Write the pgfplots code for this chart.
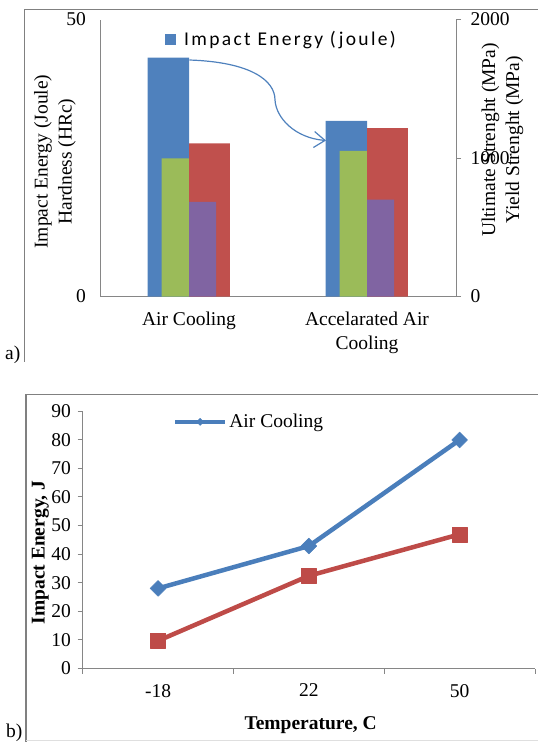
\documentclass[border=0pt]{standalone}
\usepackage{fontspec}
\setmainfont{Liberation Serif}
\newfontfamily\calfont[LetterSpace=12]{Carlito}
\usepackage{pgfplots}
\pgfplotsset{compat=1.18}
\usetikzlibrary{arrows.meta}
\definecolor{xblue}{HTML}{4F81BD}
\definecolor{xred}{HTML}{C0504D}
\definecolor{xgreen}{HTML}{9BBB59}
\definecolor{xpurple}{HTML}{8064A2}
\definecolor{lblue}{HTML}{4A7EBB}
\definecolor{lred}{HTML}{BE4B48}
\definecolor{axgray}{HTML}{868686}
\definecolor{frgray}{HTML}{808080}
\newcommand{\fs}{\fontsize{19.5}{24}\selectfont}

\begin{document}
\begin{tikzpicture}
\path[use as bounding box] (0,0) rectangle (538pt,-742pt);
% frames
\draw[frgray, line width=1.3pt] (538pt,-9.3pt) -- (24.3pt,-9.3pt) -- (24.3pt,-362pt);
\draw[frgray, line width=1.3pt] (538pt,-394.3pt) -- (26pt,-394.3pt) -- (26pt,-742pt);
\draw[gray!25, line width=1pt] (26pt,-740.7pt) -- (538pt,-740.7pt);
\node[font=\fs, anchor=base west, inner sep=0pt] at (5pt,-359pt) {a)};
\node[font=\fs, anchor=base west, inner sep=0pt] at (6pt,-737.5pt) {b)};

% ---------- Panel a, primary axis ----------
\begin{axis}[
  at={(100pt,-296.5pt)}, anchor=south west,
  scale only axis, width=356pt, height=277pt,
  xmin=-0.5, xmax=1.5, ymin=0, ymax=50,
  axis x line*=bottom, axis y line*=left,
  axis line style={draw=axgray, line width=1pt},
  xtick={0,1}, xticklabels={Air Cooling, {Accelarated Air\\Cooling}},
  ytick={0,50},
  major tick length=0pt,
  tick label style={font=\fs},
  xticklabel style={align=center, yshift=-12pt},
  yticklabel style={xshift=-10.5pt},
  /pgf/number format/assume math mode=true,
  ylabel={Impact Energy (Joule)\\Hardness (HRc)},
  every axis y label/.style={at={(axis description cs:-0.1267,0.487)}, anchor=center, rotate=90, align=center, font=\fs},
  legend style={at={(axis description cs:0.1826,0.928)}, anchor=west, draw=none, fill=none, inner sep=0pt,
    column sep=6pt, font=\calfont\fontsize{19.5}{22}\selectfont},
  legend image code/.code={\fill[#1] (0pt,-5.5pt) rectangle (11pt,5.5pt);},
]
\addplot[ybar, bar width=0.232, bar shift=-0.116, fill=xblue, draw=none] coordinates {(0,43.1) (1,31.7)};
\addlegendentry{Impact Energy (joule)}
\addplot[ybar, bar width=0.229, bar shift=0.1145, fill=xred, draw=none, forget plot] coordinates {(0,27.65) (1,30.4)};
\end{axis}

% ---------- Panel a, secondary axis ----------
\begin{axis}[
  at={(100pt,-296.5pt)}, anchor=south west,
  scale only axis, width=356pt, height=277pt,
  xmin=-0.5, xmax=1.5, ymin=0, ymax=2000,
  axis x line=none, axis y line*=right,
  axis line style={draw=axgray, line width=1pt},
  tick style={draw=axgray, line width=1pt},
  xtick=\empty,
  ytick={0,1000,2000},
  tick align=outside, major tick length=5pt,
  tick label style={font=\fs},
  yticklabel style={xshift=6pt},
  /pgf/number format/assume math mode=true,
  /pgf/number format/1000 sep={},
  ylabel={Ultimate Strenght (MPa)\\Yield Strenght (MPa)},
  every axis y label/.style={at={(axis description cs:1.1306,0.565)}, anchor=center, rotate=90, align=center, font=\fs},
]
\addplot[ybar, bar width=0.153, bar shift=-0.0767, fill=xgreen, draw=none] coordinates {(0,998) (1,1051)};
\addplot[ybar, bar width=0.152, bar shift=0.076, fill=xpurple, draw=none] coordinates {(0,684) (1,699)};
\end{axis}

% arrow annotation
\draw[xblue, line width=1.2pt, -{Straight Barb[length=11pt,width=16pt]}]
  (189.3pt,-60pt) .. controls (250pt,-62pt) and (275pt,-80pt) .. (275pt,-100pt)
  .. controls (276pt,-118pt) and (295pt,-138pt) .. (326pt,-140.5pt);

% ---------- Panel b ----------
\begin{axis}[
  at={(82.7pt,-668.5pt)}, anchor=south west,
  scale only axis, width=452.3pt, height=257.5pt,
  xmin=0, xmax=3, ymin=0, ymax=90,
  axis x line*=bottom, axis y line*=left,
  axis line style={draw=axgray, line width=1pt},
  tick style={draw=axgray, line width=1pt},
  tick align=outside, major tick length=5pt,
  ytick={0,10,...,90},
  xtick={0,1,2,3}, xticklabels={},
  extra x ticks={0.5,1.5,2.5}, extra x tick labels={-18,22,50},
  extra x tick style={major tick length=0pt, xticklabel style={yshift=-12pt}},
  tick label style={font=\fs},
  yticklabel style={xshift=-3.2pt},
  /pgf/number format/assume math mode=true,
  xlabel={Temperature, C},
  ylabel={Impact Energy, J},
  every axis y label/.style={at={(axis description cs:-0.0933,0.4505)}, anchor=center, rotate=90, font=\fs\bfseries},
  every axis x label/.style={at={(axis description cs:0.504,-0.235)}, anchor=base, font=\fs\bfseries},
  legend style={at={(axis description cs:0.199,0.958)}, anchor=west, draw=none, fill=none, inner sep=0pt, font=\fs},
  legend image code/.code={
    \draw[#1, mark=none] (0pt,0pt) -- (50pt,0pt);
    \draw[#1, mark size=2.5pt] plot coordinates {(25pt,0pt)};},
]
\addplot[color=lblue, line width=4.5pt, line join=round, mark=square*, mark size=5.6pt,
  mark options={rotate=45, line width=0.5pt, fill=lblue}] coordinates {(0.5,28) (1.5,42.8) (2.5,79.9)};
\addlegendentry{Air Cooling}
\addplot[color=lred, line width=4.5pt, line join=round, mark=square*, mark size=7.5pt,
  mark options={line width=0.5pt, fill=lred}, forget plot] coordinates {(0.5,9.7) (1.5,32.4) (2.5,46.9)};
\end{axis}
\end{tikzpicture}
\end{document}
